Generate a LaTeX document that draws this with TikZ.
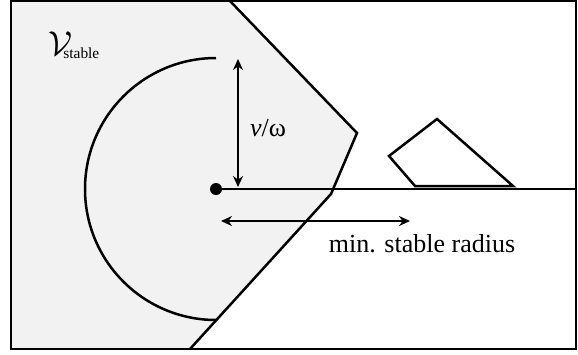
\documentclass[tikz,border=0pt]{standalone}
\usepackage{fontspec}
\setmainfont{Liberation Serif}
\usetikzlibrary{arrows.meta}
\begin{document}
\begin{tikzpicture}[x=0.5pt, y=-0.5pt,
    edge/.style={line width=1.25pt, black},
    dim/.style={line width=1.2pt, {Stealth[length=5.5pt,width=5pt]}-{Stealth[length=5.5pt,width=5pt]}},
    lbl/.style={font=\fontsize{13}{15}\selectfont, inner sep=0pt},
]
\useasboundingbox (0,0) rectangle (578,354);

% stable region
\fill[black!5] (11,1) -- (230,1) -- (357,133) -- (331,194) -- (190,349) -- (11,349) -- cycle;
\draw[edge] (230,1) -- (357,133) -- (331,194) -- (190,349);

% frame
\draw[line width=1.3pt] (11,1) rectangle (576,349);

% minimum turning circle
\draw[edge] (216,58) arc[start angle=270, end angle=90, radius=131];

% robot and heading
\node[circle, fill, inner sep=0pt, minimum size=6pt] (robot) at (216,189) {};
\coordinate (rayend) at (575,189);
\draw[edge] (robot.center) -- (rayend);

% obstacle
\draw[edge, line join=miter] (437,119) -- (389,156) -- (415,186) -- (513,186) -- cycle;

% dimensions
\coordinate (vtop) at (238,59);
\coordinate (vbot) at (238,187);
\draw[dim] (vtop) -- (vbot);
\coordinate (hleft) at (221,221);
\coordinate (hright) at (410,221);
\draw[dim] (hleft) -- (hright);

\node[lbl] (vw) at (268,128) {\textit{v}/ω};
\node[lbl] (minr) at (422,244) {min. stable radius};
\node[font=\fontsize{19}{22}\selectfont, inner sep=0pt] (V) at (61,44) {$\mathcal{V}$};
\node[font=\fontsize{7.7}{9}\selectfont, anchor=base west, inner sep=0pt] (Vsub) at (63,58) {stable};
\end{tikzpicture}
\end{document}
